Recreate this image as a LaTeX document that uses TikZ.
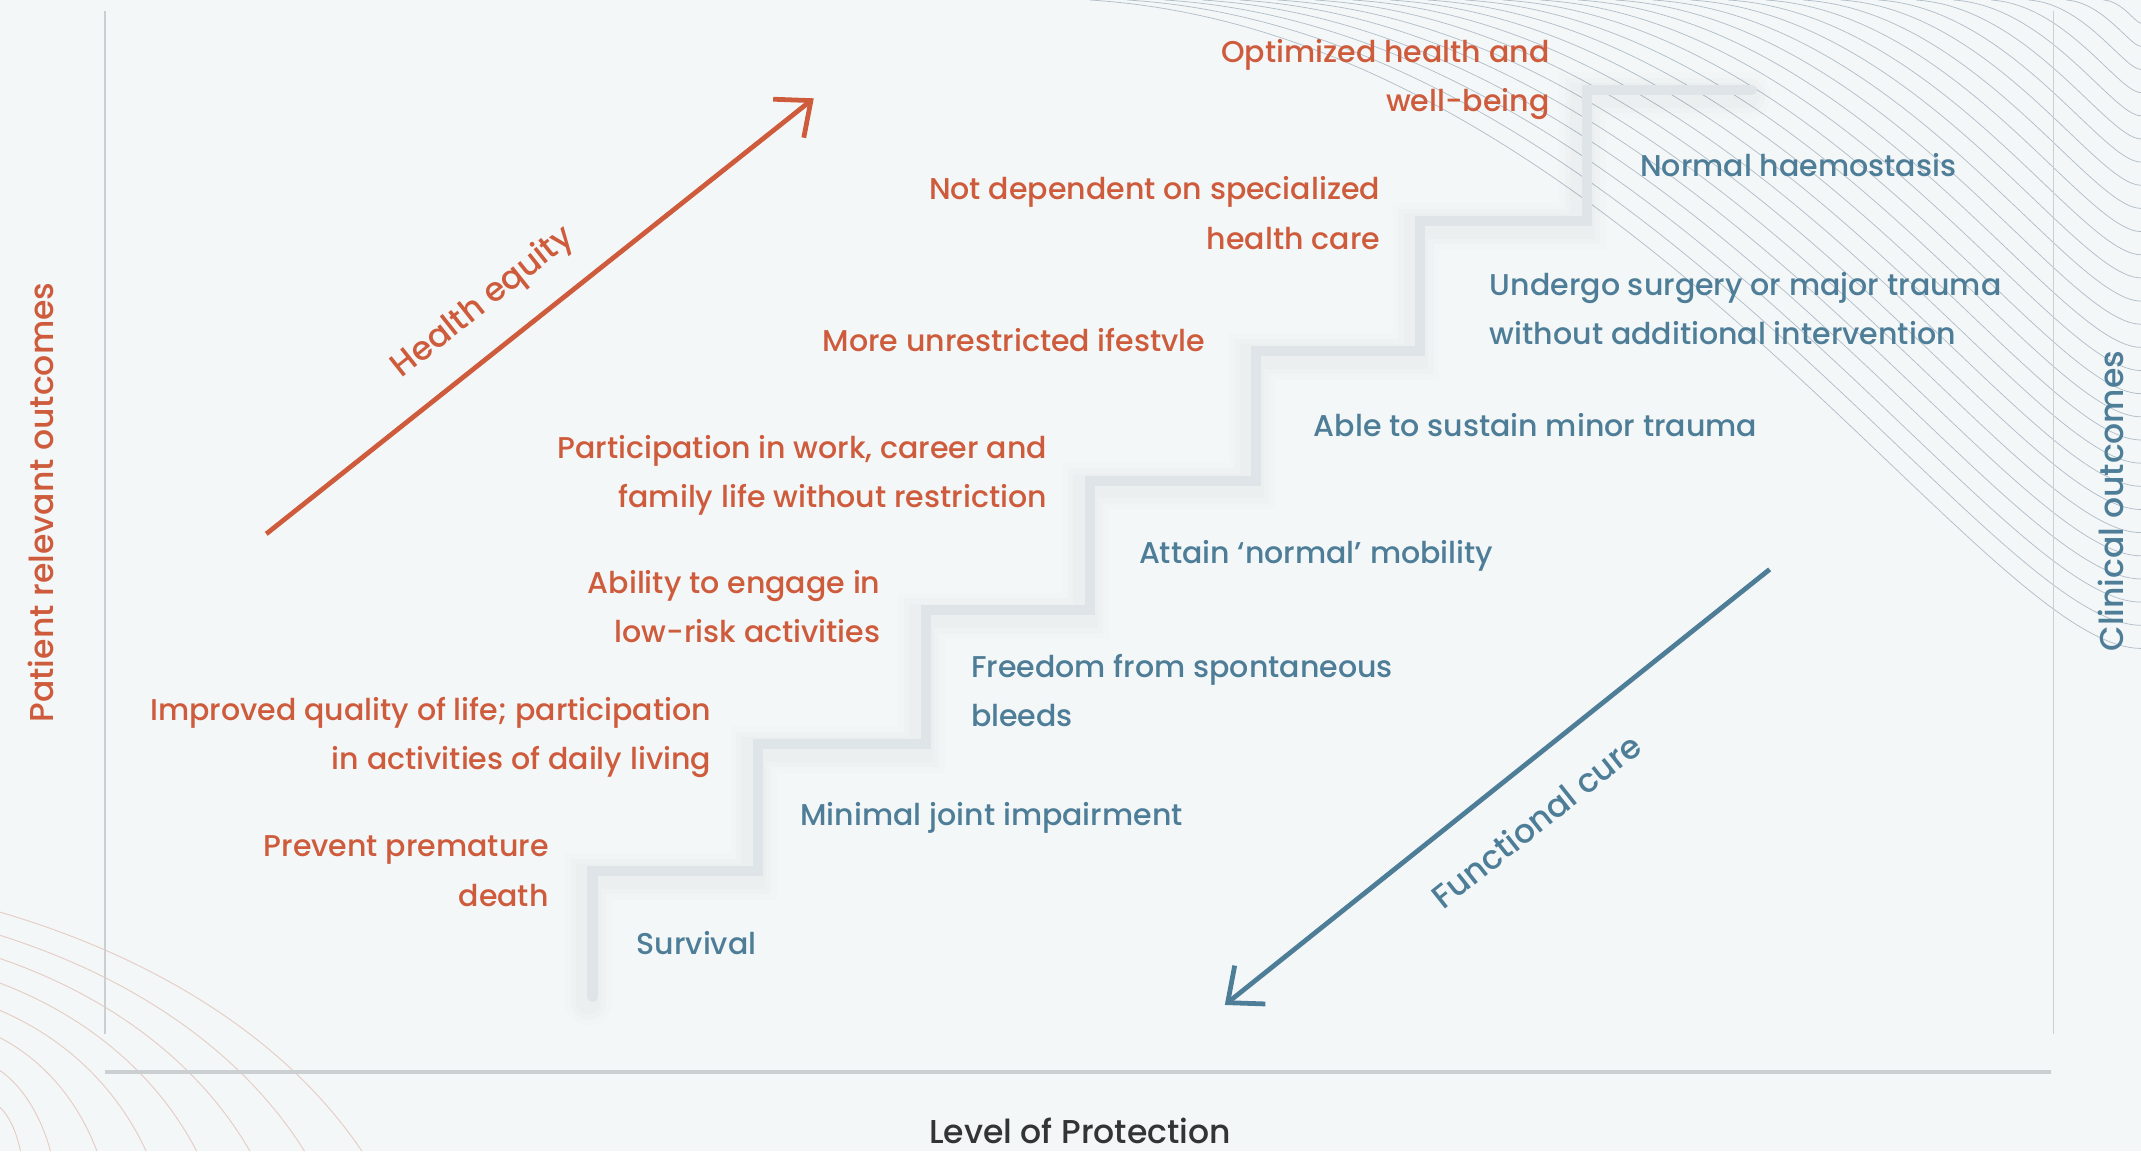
\documentclass[tikz,border=0pt]{standalone}
\usepackage{fontspec}
\setmainfont{Poppins Medium}
\usepackage{tikz}
\usetikzlibrary{arrows.meta}
\definecolor{paper}{RGB}{244,247,248}
\definecolor{rust}{RGB}{206,92,60}
\definecolor{steel}{RGB}{78,125,152}
\definecolor{stairgrey}{RGB}{222,228,232}
\definecolor{axisgrey}{RGB}{204,207,210}
\definecolor{inkgrey}{RGB}{50,52,54}
\definecolor{contour}{RGB}{178,191,201}
\definecolor{blush}{RGB}{229,205,198}
\tikzset{
  txt/.style   ={font=\fontsize{22}{36}\selectfont, inner sep=0pt},
  big/.style   ={font=\fontsize{24.2}{30}\selectfont, inner sep=0pt},
  pro/.style   ={txt, text=rust, anchor=east, align=right},
  clin/.style  ={txt, text=steel, anchor=west, align=left},
  stair/.style ={draw=stairgrey, line width=7.5pt, line cap=round},
  trend/.style ={line width=3.5pt, -{Straight Barb[length=21pt,width=36pt]}},
  axl/.style   ={draw=axisgrey, line width=1.2pt},
}

\begin{document}
\begin{tikzpicture}[x=1pt,y=-1pt]
\fill[paper] (0,0) rectangle (1568,843);
\useasboundingbox (0,0) rectangle (1568,843);

% background line work
\begin{scope}
\clip (0,0) rectangle (1568,843);
\foreach \k in {1,...,28}{
  \pgfmathsetmacro{\cw}{27.5*\k}
  \pgfmathsetmacro{\ch}{16.96*\k}
  \draw[contour, line width=0.55pt] ({1568-\cw},0)
     .. controls ({1568-0.5*\cw},{0.05*\ch}) and ({1568-0.15*\cw},\ch) .. (1568,\ch);
}
\foreach \yl/\xb in {668/265,685/223,702/183,720/144,740/107,760/71,784/37,811/15}{
  \draw[blush, line width=0.7pt] (0,\yl)
     .. controls ({0.45*\xb},{\yl+0.2*(843-\yl)}) and ({0.8*\xb},{\yl+0.55*(843-\yl)}) .. (\xb,843);
}
\end{scope}

% axes
\draw[axl] (77,8) -- (77,757);
\draw[axl] (1504,8) -- (1504,757);
\draw[draw=axisgrey, line width=3pt] (77,785) -- (1502,785);
\node[big, text=rust, rotate=90] (yleft) at (30,368) {Patient relevant outcomes};
\node[big, text=steel, rotate=90] (yright) at (1546,367) {Clinical outcomes};
\node[big, text=inkgrey] (xlab) at (791,828) {Level of Protection};

% staircase with soft shadow
\foreach \w/\o in {34/0.008,26/0.01,18/0.012}
  \draw[line width=\w pt, black, opacity=\o, line cap=round, shift={(-3,4)}]
    (434,730) |- (555,638) |- (678,545) |- (798,447) |- (920,352) |- (1040,257) |- (1162,162) |- (1283,66);
\draw[stair] (434,730) |- (555,638) |- (678,545) |- (798,447) |- (920,352) |- (1040,257) |- (1162,162) |- (1283,66);

% patient relevant outcomes (left of the risers)
\node[pro] (p7) at (1135,58)  {Optimized health and\\well-being};
\node[pro] (p6) at (1011,156) {Not dependent on specialized\\health care};
\node[pro] (p5) at (883,249)  {More unrestricted ifestvle};
\node[pro] (p4) at (767,348)  {Participation in work, career and\\family life without restriction};
\node[pro] (p3) at (645,444)  {Ability to engage in\\low-risk activities};
\node[pro] (p2) at (521,540)  {Improved quality of life; participation\\in activities of daily living};
\node[pro] (p1) at (402,638)  {Prevent premature\\death};

% clinical outcomes (right of the risers)
\node[clin] (c7) at (1201,121) {Normal haemostasis};
\node[clin] (c6) at (1091,226) {Undergo surgery or major trauma\\without additional intervention};
\node[clin] (c5) at (962,311)  {Able to sustain minor trauma};
\node[clin] (c4) at (834,407)  {Attain ‘normal’ mobility};
\node[clin] (c3) at (711,506)  {Freedom from spontaneous\\bleeds};
\node[clin] (c2) at (586,599)  {Minimal joint impairment};
\node[clin] (c1) at (466,691)  {Survival};

% trend arrows
\coordinate (heqA) at (195,391);
\coordinate (heqB) at (596,72);
\coordinate (fcA) at (1296,417);
\coordinate (fcB) at (897,736);
\draw[trend, rust] (heqA) -- (heqB);
\draw[trend, steel] (fcA) -- (fcB);
\node[big, text=rust, rotate=38.5] (heq) at (354,222) {Health equity};
\node[big, text=steel, rotate=38.5] (fc) at (1125,601) {Functional cure};
\end{tikzpicture}
\end{document}
